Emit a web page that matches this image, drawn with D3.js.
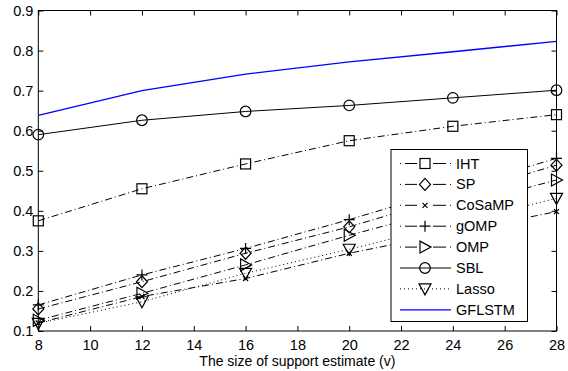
<!DOCTYPE html>
<html><head><meta charset="utf-8">
<script src="https://cdn.jsdelivr.net/npm/d3@7"></script>
<style>
html,body{margin:0;padding:0;background:#fff;}
svg{display:block;font-family:"Liberation Sans",Arial,Helvetica,sans-serif;}
</style></head>
<body><svg id="c" width="568" height="371"></svg>
<script>
const xValues = [8, 12, 16, 20, 24, 28];
const seriesNames = ["IHT", "SP", "CoSaMP", "gOMP", "OMP", "SBL", "Lasso", "GFLSTM"];
const IHT    = [0.375, 0.455, 0.517, 0.575, 0.611, 0.640];
const SP     = [0.155, 0.223, 0.294, 0.360, 0.437, 0.514];
const CoSaMP = [0.120, 0.186, 0.231, 0.294, 0.346, 0.398];
const gOMP   = [0.165, 0.240, 0.306, 0.378, 0.455, 0.531];
const OMP    = [0.127, 0.194, 0.265, 0.339, 0.408, 0.477];
const SBL    = [0.590, 0.626, 0.648, 0.663, 0.682, 0.701];
const Lasso  = [0.119, 0.173, 0.244, 0.304, 0.368, 0.431];
const GFLSTM = [0.638, 0.700, 0.741, 0.772, 0.797, 0.823];
const xTicks = [8, 10, 12, 14, 16, 18, 20, 22, 24, 26, 28];
const yTicks = [0.1, 0.2, 0.3, 0.4, 0.5, 0.6, 0.7, 0.8, 0.9];
const xTitle = "The size of support estimate (v)";

const styles = {
  IHT:    {color:"#000", dash:"7,3,1,3", marker:"square"},
  SP:     {color:"#000", dash:"7,3,1,3", marker:"diamond"},
  CoSaMP: {color:"#000", dash:"7,3,1,3", marker:"x"},
  gOMP:   {color:"#000", dash:"7,3,1,3", marker:"plus"},
  OMP:    {color:"#000", dash:"7,3,1,3", marker:"tright"},
  SBL:    {color:"#000", dash:null, marker:"circle"},
  Lasso:  {color:"#000", dash:"1,3", marker:"tdown"},
  GFLSTM: {color:"#0000ff", dash:null, marker:null}
};
const dataMap = {IHT, SP, CoSaMP, gOMP, OMP, SBL, Lasso, GFLSTM};

const L = 38.3, R = 556.5, T = 10.5, B = 331;
const svg = d3.select("#c");
const x = d3.scaleLinear().domain([8, 28]).range([L, R]);
const y = d3.scaleLinear().domain([0.1, 0.9]).range([B, T]);

const fmtY = d3.format(".1f");
const FS = 14.5;
svg.append("g").attr("transform", `translate(0,${B})`)
  .call(d3.axisBottom(x).tickValues(xTicks).tickSizeInner(-5).tickSizeOuter(0).tickPadding(9))
  .call(g => { g.select(".domain").remove(); g.selectAll("text").attr("font-size", FS).attr("fill","#000").attr("font-family", "Liberation Sans, Arial, sans-serif"); g.selectAll("line").attr("stroke","#000"); });
svg.append("g").attr("transform", `translate(0,${T})`)
  .call(d3.axisTop(x).tickValues(xTicks).tickSizeInner(-5).tickSizeOuter(0).tickFormat(""))
  .call(g => { g.select(".domain").remove(); g.selectAll("line").attr("stroke","#000"); });
svg.append("g").attr("transform", `translate(${L},0)`)
  .call(d3.axisLeft(y).tickValues(yTicks).tickFormat(fmtY).tickSizeInner(-5).tickSizeOuter(0).tickPadding(5))
  .call(g => { g.select(".domain").remove(); g.selectAll("text").attr("font-size", FS).attr("fill","#000").attr("font-family", "Liberation Sans, Arial, sans-serif"); g.selectAll("line").attr("stroke","#000"); });
svg.append("g").attr("transform", `translate(${R},0)`)
  .call(d3.axisRight(y).tickValues(yTicks).tickFormat("").tickSizeInner(-5).tickSizeOuter(0))
  .call(g => { g.select(".domain").remove(); g.selectAll("line").attr("stroke","#000"); });

svg.append("rect").attr("x", L).attr("y", T).attr("width", R - L).attr("height", B - T)
  .attr("fill", "none").attr("stroke", "#000").attr("stroke-width", 1);

svg.append("text").attr("x", (L + R) / 2).attr("y", 366).attr("text-anchor", "middle")
  .attr("font-size", 14).attr("fill", "#000").text(xTitle);

function drawMarker(g, type, cx, cy) {
  const s = 5;
  if (type === "square") {
    g.append("rect").attr("x", cx - s).attr("y", cy - s).attr("width", 2*s).attr("height", 2*s)
      .attr("fill","none").attr("stroke","#000").attr("stroke-width",1.2);
  } else if (type === "circle") {
    g.append("circle").attr("cx", cx).attr("cy", cy).attr("r", 5.3)
      .attr("fill","none").attr("stroke","#000").attr("stroke-width",1.2);
  } else if (type === "diamond") {
    g.append("path").attr("d", `M${cx},${cy-6}L${cx+5.5},${cy}L${cx},${cy+6}L${cx-5.5},${cy}Z`)
      .attr("fill","none").attr("stroke","#000").attr("stroke-width",1.2);
  } else if (type === "x") {
    const a = 2.5;
    g.append("path").attr("d", `M${cx-a},${cy-a}L${cx+a},${cy+a}M${cx-a},${cy+a}L${cx+a},${cy-a}`)
      .attr("fill","none").attr("stroke","#000").attr("stroke-width",1.2);
  } else if (type === "plus") {
    const a = 5.5;
    g.append("path").attr("d", `M${cx-a},${cy}L${cx+a},${cy}M${cx},${cy-a}L${cx},${cy+a}`)
      .attr("fill","none").attr("stroke","#000").attr("stroke-width",1.2);
  } else if (type === "tright") {
    g.append("path").attr("d", `M${cx-5},${cy-6}L${cx+6},${cy}L${cx-5},${cy+6}Z`)
      .attr("fill","none").attr("stroke","#000").attr("stroke-width",1.2);
  } else if (type === "tdown") {
    g.append("path").attr("d", `M${cx-6},${cy-5}L${cx+6},${cy-5}L${cx},${cy+6}Z`)
      .attr("fill","none").attr("stroke","#000").attr("stroke-width",1.2);
  }
}

const line = d3.line().x((d, i) => x(xValues[i])).y(d => y(d));
const plotG = svg.append("g");
seriesNames.forEach(name => {
  const st = styles[name];
  const p = plotG.append("path").attr("d", line(dataMap[name]))
    .attr("fill", "none").attr("stroke", st.color).attr("stroke-width", st.color === "#000" ? 1 : 1.3);
  if (st.dash) p.attr("stroke-dasharray", st.dash);
  if (st.marker) dataMap[name].forEach((v, i) => drawMarker(plotG, st.marker, x(xValues[i]), y(v)));
});

// legend
const lg = svg.append("g");
const lx0 = 391, ly0 = 149.5, lw = 136.5, lh = 172;
lg.append("rect").attr("x", lx0).attr("y", ly0).attr("width", lw).attr("height", lh)
  .attr("fill", "#fff").attr("stroke", "#000").attr("stroke-width", 1);
seriesNames.forEach((name, i) => {
  const st = styles[name];
  const cy = 163.5 + i * 20.9;
  const p = lg.append("line").attr("x1", 400).attr("x2", 451).attr("y1", cy).attr("y2", cy)
    .attr("stroke", st.color).attr("stroke-width", st.color === "#000" ? 1 : 1.3);
  if (st.dash) p.attr("stroke-dasharray", st.dash === "1,3" ? "1,3" : "1,4,12,16,13,4,1");
  if (st.marker) drawMarker(lg, st.marker, 425, cy);
  lg.append("text").attr("x", 456).attr("y", cy + 5).attr("font-size", FS).attr("fill", "#000").text(name);
});
</script></body></html>
